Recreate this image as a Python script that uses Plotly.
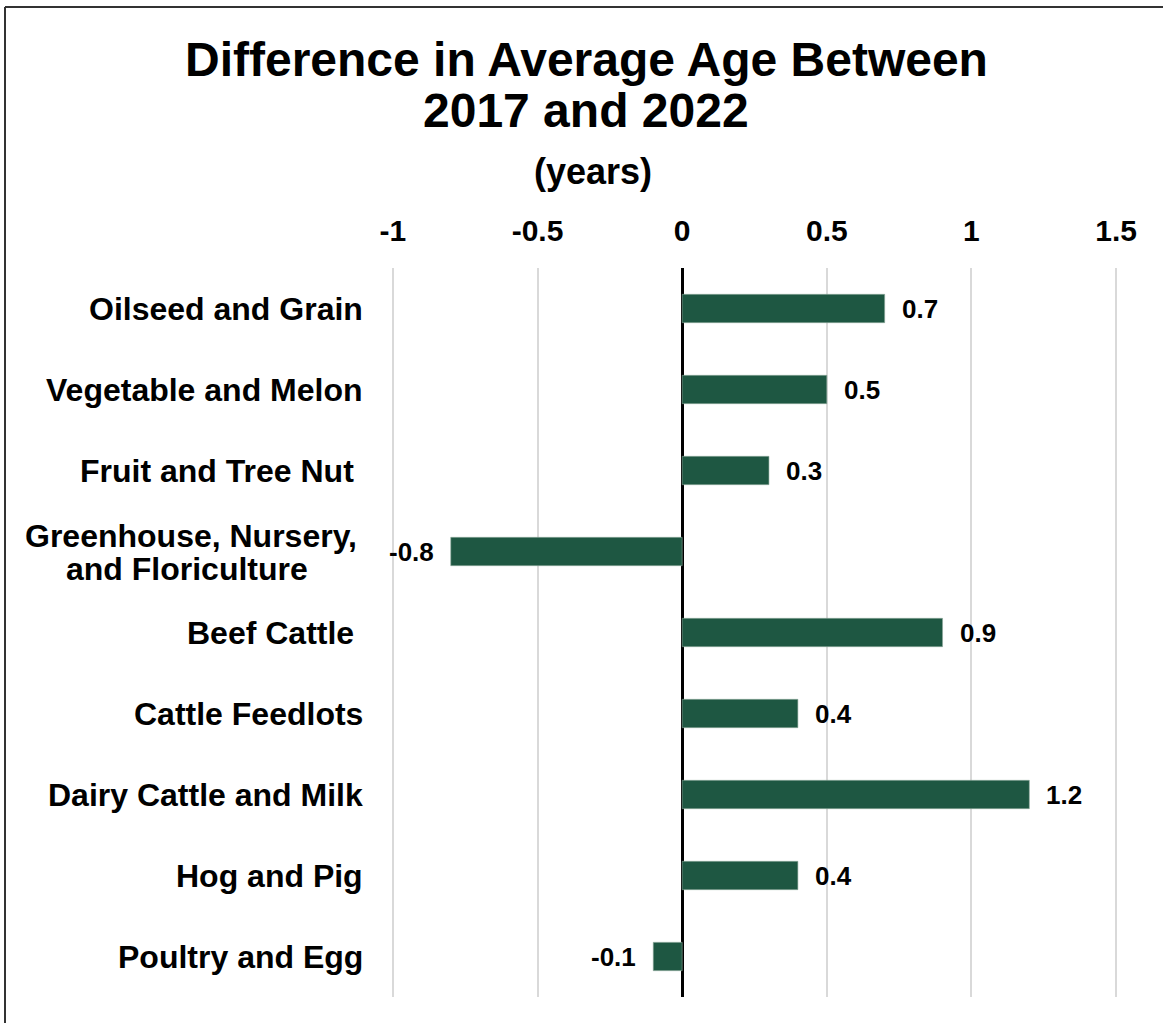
import plotly.graph_objects as go

categories = ["Oilseed and Grain", "Vegetable and Melon", "Fruit and Tree Nut\u00a0",
              "Greenhouse, Nursery,<br>and Floriculture", "Beef Cattle\u00a0",
              "Cattle Feedlots", "Dairy Cattle and Milk", "Hog and Pig", "Poultry and Egg"]
values = [0.7, 0.5, 0.3, -0.8, 0.9, 0.4, 1.2, 0.4, -0.1]
value_labels = ["0.7", "0.5", "0.3", "-0.8", "0.9", "0.4", "1.2", "0.4", "-0.1"]
tick_vals = [-1, -0.5, 0, 0.5, 1, 1.5]
tick_text = ["-1", "-0.5", "0", "0.5", "1", "1.5"]

FONT = "Liberation Sans, Arial, sans-serif"
BAR = "#1E5742"
W, H = 1163, 1023
ML, MR, MT, MB = 390, 44, 268, 26
PH = H - MT - MB
PW = W - ML - MR

def py(p):  # pixel y -> paper y
    return (H - MB - p) / PH

def px(p):  # pixel x -> paper x
    return (p - ML) / PW

ids = list(range(len(categories)))

fig = go.Figure(go.Bar(
    x=values, y=ids, orientation="h", width=0.35,
    marker=dict(color=BAR, line=dict(width=0.6, color="#8FA99C")),
    hoverinfo="skip",
))

cat_font = dict(family=FONT, size=32, color="black", weight="bold")
ann = []
for i, c in enumerate(categories):
    lines = c.split("<br>")
    if len(lines) == 1:
        ann.append(dict(x=-1, y=i, xref="x", yref="y", text=c, showarrow=False,
                        xanchor="right", yanchor="middle", xshift=-28, font=cat_font))
    else:
        ann.append(dict(x=-1, y=i, xref="x", yref="y", text=lines[0], showarrow=False,
                        xanchor="right", yanchor="middle", xshift=-34, yshift=16,
                        font=cat_font))
        ann.append(dict(x=-1, y=i, xref="x", yref="y", text=lines[1], showarrow=False,
                        xanchor="right", yanchor="middle", xshift=-83, yshift=-17,
                        font=cat_font))
for i, (v, t) in enumerate(zip(values, value_labels)):
    ann.append(dict(x=v, y=i, xref="x", yref="y", text=t, showarrow=False,
                    xanchor="left" if v >= 0 else "right", yanchor="middle",
                    xshift=15 if v >= 0 else -15,
                    font=dict(family=FONT, size=26, color="black", weight="bold")))

ann.append(dict(x=px(586), y=py(60), xref="paper", yref="paper", showarrow=False,
                text="Difference in Average Age Between", xanchor="center", yanchor="middle",
                font=dict(family=FONT, size=48, color="black", weight="bold")))
ann.append(dict(x=px(586), y=py(111), xref="paper", yref="paper", showarrow=False,
                text="2017 and 2022", xanchor="center", yanchor="middle",
                font=dict(family=FONT, size=48, color="black", weight="bold")))
ann.append(dict(x=px(593), y=py(172), xref="paper", yref="paper", showarrow=False,
                text="(years)", xanchor="center", yanchor="middle",
                font=dict(family=FONT, size=36, color="black", weight="bold")))

shapes = [
    dict(type="line", xref="paper", yref="paper", x0=px(5), x1=px(5), y0=py(7), y1=py(1030),
         line=dict(color="#333333", width=2)),
    dict(type="line", xref="paper", yref="paper", x0=px(5), x1=px(1170), y0=py(7), y1=py(7),
         line=dict(color="#333333", width=2)),
]

fig.update_layout(
    width=W, height=H,
    margin=dict(l=ML, r=MR, t=MT, b=MB, autoexpand=False),
    paper_bgcolor="white", plot_bgcolor="white",
    showlegend=False,
    annotations=ann, shapes=shapes,
    xaxis=dict(range=[-1.01, 1.51], side="top", tickmode="array", tickvals=tick_vals,
               ticktext=tick_text, showgrid=True, gridcolor="#D9D9D9", gridwidth=1.5,
               zeroline=True, zerolinecolor="black", zerolinewidth=2.5,
               showline=False, ticks="", ticklabelstandoff=20,
               tickfont=dict(family=FONT, size=30, color="black", weight="bold")),
    yaxis=dict(range=[len(categories) - 0.5, -0.5], showticklabels=False,
               showgrid=False, zeroline=False, showline=False, ticks=""),
)

fig.write_html("out.html")
